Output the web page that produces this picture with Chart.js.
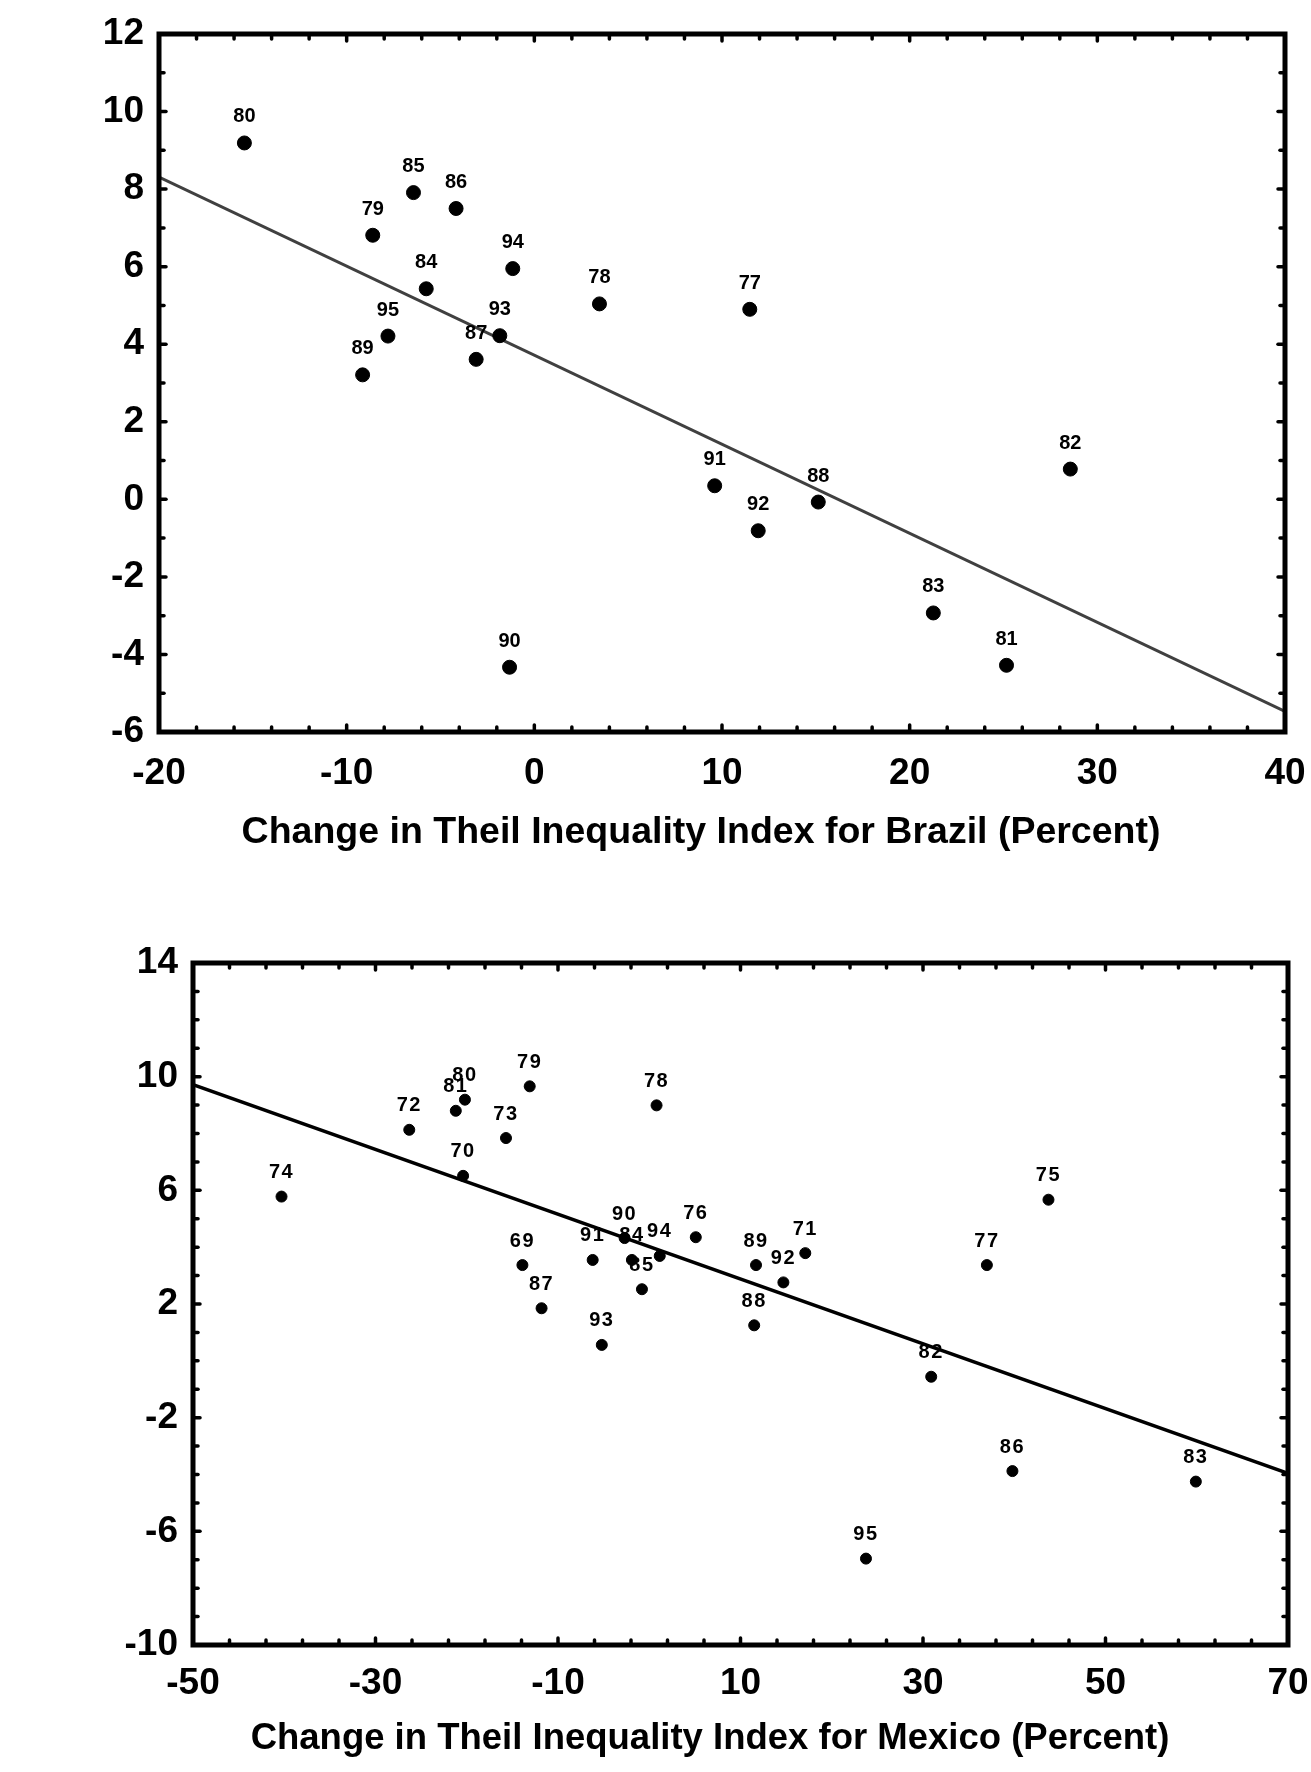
<!DOCTYPE html>
<html>
<head>
<meta charset="utf-8">
<script src="https://cdn.jsdelivr.net/npm/chart.js@4.4.1/dist/chart.umd.min.js"></script>
<style>
  body { margin: 0; background: #fff; }
  #wrap { position: relative; width: 1311px; height: 1772px; }
  canvas { position: absolute; left: 0; }
  #brazilChart { top: 0; }
  #mexicoChart { top: 880px; }
</style>
</head>
<body>
<div id="wrap">
  <canvas id="brazilChart" width="1311" height="880"></canvas>
  <canvas id="mexicoChart" width="1311" height="892"></canvas>
</div>
<script>
var brazilYears = ['80', '85', '86', '79', '94', '84', '78', '77', '95', '93', '87', '89', '91', '88', '92', '82', '83', '81', '90'];
var brazilX = [-15.45, -6.44, -4.17, -8.61, -1.15, -5.76, 3.47, 11.48, -7.80, -1.84, -3.10, -9.15, 9.61, 15.13, 11.93, 28.56, 21.26, 25.16, -1.32];
var brazilY = [9.19, 7.91, 7.50, 6.81, 5.95, 5.43, 5.04, 4.90, 4.21, 4.22, 3.61, 3.21, 0.35, -0.07, -0.81, 0.78, -2.93, -4.28, -4.33];
var brazilFitX = [-20, 40];
var brazilFitY = [8.31, -5.47];

var mexicoYears = ['74', '72', '81', '80', '79', '73', '70', '69', '91', '90', '84', '85', '87', '93', '78', '94', '76', '89', '92', '71', '88', '77', '75', '82', '86', '83', '95'];
var mexicoX = [-40.3, -26.3, -21.2, -20.2, -13.1, -15.7, -20.4, -13.9, -6.2, -2.7, -1.9, -0.8, -11.8, -5.2, 0.8, 1.15, 5.1, 11.7, 14.7, 17.1, 11.5, 37.0, 43.75, 30.9, 39.8, 59.9, 23.75];
var mexicoY = [5.78, 8.13, 8.80, 9.19, 9.66, 7.84, 6.51, 3.37, 3.55, 4.32, 3.55, 2.52, 1.85, 0.56, 8.99, 3.69, 4.35, 3.37, 2.76, 3.79, 1.25, 3.37, 5.67, -0.56, -3.88, -4.25, -6.96];
var mexicoFitX = [-50, 70];
var mexicoFitY = [9.72, -3.96];

var FONT = '"Liberation Sans", Arial, sans-serif';

function toPoints(xs, ys) {
  return xs.map(function (x, i) { return { x: x, y: ys[i] }; });
}

// frame + inward tick marks on all four sides, year labels, axis title
var framePlugin = {
  id: 'frame',
  afterDraw: function (chart, args, opts) {
    var ctx = chart.ctx;
    var a = chart.chartArea;
    var xs = chart.scales.x, ys = chart.scales.y;
    ctx.save();
    ctx.strokeStyle = '#000';
    ctx.lineCap = 'round';
    ctx.lineWidth = 3.5;
    for (var v = xs.min; v <= xs.max + 1e-9; v += opts.xMinor) {
      var px = xs.getPixelForValue(v);
      var len = (Math.abs((v - xs.min) % opts.xMajor) < 1e-6) ? 7 : 5;
      ctx.beginPath(); ctx.moveTo(px, a.bottom); ctx.lineTo(px, a.bottom - len); ctx.stroke();
      ctx.beginPath(); ctx.moveTo(px, a.top); ctx.lineTo(px, a.top + len); ctx.stroke();
    }
    for (var w = ys.min; w <= ys.max + 1e-9; w += opts.yMinor) {
      var py = ys.getPixelForValue(w);
      var len2 = (Math.abs((w - ys.min) % opts.yMajor) < 1e-6) ? 7 : 5;
      ctx.beginPath(); ctx.moveTo(a.left, py); ctx.lineTo(a.left + len2, py); ctx.stroke();
      ctx.beginPath(); ctx.moveTo(a.right, py); ctx.lineTo(a.right - len2, py); ctx.stroke();
    }
    ctx.lineCap = 'butt';
    ctx.lineWidth = 5;
    ctx.strokeRect(a.left, a.top, a.right - a.left, a.bottom - a.top);

    ctx.fillStyle = '#000';
    ctx.textAlign = 'center';
    ctx.textBaseline = 'middle';

    // x axis title (sits a little left of the plot centre in the original)
    ctx.font = 'bold ' + opts.titleSize + 'px ' + FONT;
    ctx.fillText(opts.title, opts.titleX, opts.titleY);

    // year labels above the dots
    var meta = chart.getDatasetMeta(0);
    ctx.font = 'bold ' + opts.labelSize + 'px ' + FONT;
    if (opts.spacing) ctx.letterSpacing = opts.spacing;
    meta.data.forEach(function (pt, i) {
      ctx.fillText(opts.labels[i], pt.x, pt.y - opts.labelGap);
    });
    ctx.restore();
  }
};

function makeChart(canvasId, cfg) {
  var ctx = document.getElementById(canvasId).getContext('2d');
  return new Chart(ctx, {
    type: 'scatter',
    data: {
      datasets: [{
        data: toPoints(cfg.xs, cfg.ys),
        backgroundColor: '#000',
        borderColor: '#000',
        pointRadius: cfg.dot,
        pointHoverRadius: cfg.dot
      }, {
        type: 'line',
        data: toPoints(cfg.fitX, cfg.fitY),
        borderColor: cfg.lineColor,
        borderWidth: cfg.lineWidth,
        pointRadius: 0,
        fill: false
      }]
    },
    options: {
      responsive: false,
      animation: false,
      devicePixelRatio: 1,
      layout: { padding: cfg.padding },
      plugins: {
        legend: { display: false },
        tooltip: { enabled: false },
        frame: cfg.frame
      },
      scales: {
        x: {
          type: 'linear',
          min: cfg.xMin, max: cfg.xMax,
          grid: { display: false, drawTicks: false },
          border: { display: false },
          ticks: {
            stepSize: cfg.xStep,
            padding: cfg.xTickPad,
            color: '#000',
            font: { family: FONT, size: 37, weight: 'bold' }
          },
          afterFit: function (scale) {
            scale.height = cfg.xHeight;
            scale.paddingLeft = 0;
            scale.paddingRight = 0;
          }
        },
        y: {
          type: 'linear',
          min: cfg.yMin, max: cfg.yMax,
          grid: { display: false, drawTicks: false },
          border: { display: false },
          ticks: {
            stepSize: cfg.yStep,
            padding: 15,
            color: '#000',
            font: { family: FONT, size: 37, weight: 'bold' }
          },
          afterFit: function (scale) {
            scale.width = cfg.yWidth;
            scale.paddingTop = 0;
            scale.paddingBottom = 0;
          }
        }
      }
    },
    plugins: [framePlugin]
  });
}

makeChart('brazilChart', {
  xs: brazilX, ys: brazilY, fitX: brazilFitX, fitY: brazilFitY,
  dot: 7, lineColor: '#404040', lineWidth: 3,
  padding: { top: 34, right: 26, bottom: 28, left: 0 },
  xMin: -20, xMax: 40, xStep: 10, yMin: -6, yMax: 12, yStep: 2,
  xTickPad: 20, xHeight: 120, yWidth: 159,
  frame: {
    xMinor: 2, xMajor: 10, yMinor: 1, yMajor: 2,
    labels: brazilYears, labelSize: 20, labelGap: 26,
    title: 'Change in Theil Inequality Index for Brazil (Percent)',
    titleSize: 37.5, titleX: 701, titleY: 833
  }
});

makeChart('mexicoChart', {
  xs: mexicoX, ys: mexicoY, fitX: mexicoFitX, fitY: mexicoFitY,
  dot: 5.5, lineColor: '#000', lineWidth: 3.5,
  padding: { top: 83, right: 23, bottom: 13, left: 0 },
  xMin: -50, xMax: 70, xStep: 20, yMin: -10, yMax: 14, yStep: 4,
  xTickPad: 17, xHeight: 114, yWidth: 193,
  frame: {
    xMinor: 4, xMajor: 20, yMinor: 1, yMajor: 4,
    labels: mexicoYears, labelSize: 20, labelGap: 24, spacing: '1.5px',
    title: 'Change in Theil Inequality Index for Mexico (Percent)',
    titleSize: 36.5, titleX: 710, titleY: 859
  }
});
</script>
</body>
</html>
